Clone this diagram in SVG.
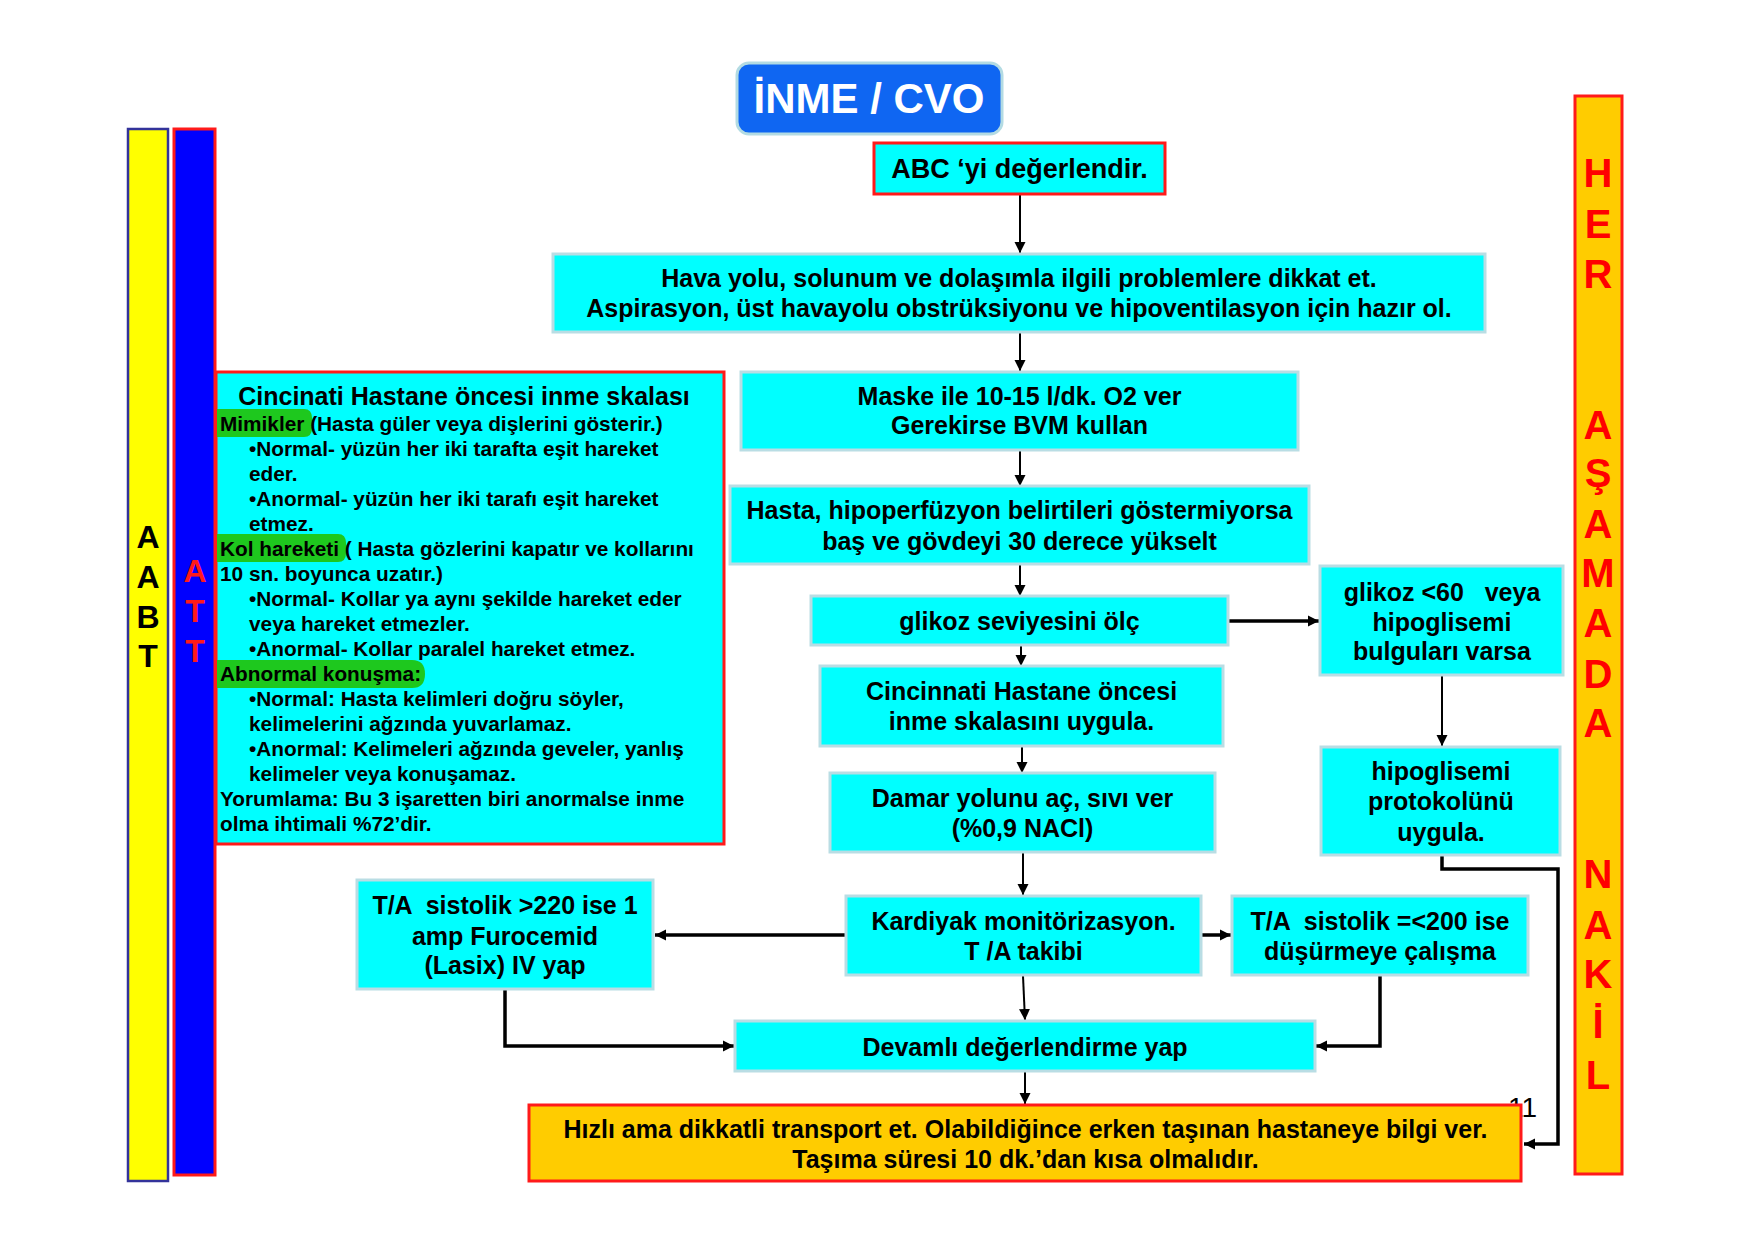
<svg xmlns="http://www.w3.org/2000/svg" width="1755" height="1240" viewBox="0 0 1755 1240">
<defs>
<style>
.box{fill:#00ffff;stroke:#b9dde4;stroke-width:3}
.rbox{fill:#00ffff;stroke:#ff1a1a;stroke-width:3}
.t{font-family:"Liberation Sans",Arial,sans-serif;font-weight:bold;font-size:25px;fill:#000;text-anchor:middle}
.lt{font-family:"Liberation Sans",Arial,sans-serif;font-weight:bold;font-size:20.8px;fill:#000}
.hl{fill:#1ec81e}
.c{fill:none;stroke:#000;stroke-width:2}
.ct{fill:none;stroke:#000;stroke-width:3.5}
.vb{font-family:"Liberation Sans",Arial,sans-serif;font-weight:bold;text-anchor:middle}
</style>
<marker id="ah" viewBox="0 0 10 10" refX="10" refY="5" markerWidth="11" markerHeight="12" markerUnits="userSpaceOnUse" orient="auto">
<path d="M0,0 L10,5 L0,10 z" fill="#000"/>
</marker>
</defs>
<rect width="1755" height="1240" fill="#fff"/>

<g id="bar-aabt">
<rect x="128" y="129" width="40" height="1052" fill="#ffff00" stroke="#33339a" stroke-width="2.5"/>
<text class="vb" x="148" y="548" font-size="32" fill="#000">A</text>
<text class="vb" x="148" y="588" font-size="32" fill="#000">A</text>
<text class="vb" x="148" y="628" font-size="32" fill="#000">B</text>
<text class="vb" x="148" y="667" font-size="32" fill="#000">T</text>
</g>
<g id="bar-att">
<rect x="174" y="129" width="41" height="1046" fill="#0000ff" stroke="#ff1a1a" stroke-width="3"/>
<text class="vb" x="195" y="582" font-size="32" fill="#ff1a1a">A</text>
<text class="vb" x="195" y="622" font-size="32" fill="#ff1a1a">T</text>
<text class="vb" x="195" y="662" font-size="32" fill="#ff1a1a">T</text>
</g>
<g id="bar-her">
<rect x="1575" y="96" width="47" height="1078" fill="#ffcc00" stroke="#ff1a1a" stroke-width="3"/>
<g class="vb" font-size="40" fill="#ff0000">
<text x="1598" y="187">H</text>
<text x="1598" y="238">E</text>
<text x="1598" y="288">R</text>
<text x="1598" y="439">A</text>
<text x="1598" y="487">Ş</text>
<text x="1598" y="538">A</text>
<text x="1598" y="587">M</text>
<text x="1598" y="637">A</text>
<text x="1598" y="688">D</text>
<text x="1598" y="737">A</text>
<text x="1598" y="888">N</text>
<text x="1598" y="939">A</text>
<text x="1598" y="988">K</text>
<text x="1598" y="1038">İ</text>
<text x="1598" y="1089">L</text>
</g>
</g>

<g id="title">
<rect x="737" y="63" width="265" height="71" rx="12" fill="#0f66f2" stroke="#b3dbe3" stroke-width="3"/>
<text class="vb" x="869" y="113" font-size="42" fill="#fff">İNME / CVO</text>
</g>

<g id="connectors">
<path class="c" d="M1020,195 L1020,253" marker-end="url(#ah)"/>
<path class="c" d="M1020,333 L1020,371" marker-end="url(#ah)"/>
<path class="c" d="M1020,451 L1020,486" marker-end="url(#ah)"/>
<path class="c" d="M1020,565 L1020,596" marker-end="url(#ah)"/>
<path class="c" d="M1021,646 L1021,666" marker-end="url(#ah)"/>
<path class="c" d="M1022,747 L1022,773" marker-end="url(#ah)"/>
<path class="c" d="M1023,853 L1023,895" marker-end="url(#ah)"/>
<path class="ct" d="M1228,621 L1319,621" marker-end="url(#ah)"/>
<path class="c" d="M1442,676 L1442,746" marker-end="url(#ah)"/>
<path class="ct" d="M845,935 L655,935" marker-end="url(#ah)"/>
<path class="ct" d="M1202,935 L1231,935" marker-end="url(#ah)"/>
<path class="c" d="M1023,976 L1025,1020" marker-end="url(#ah)"/>
<path class="ct" d="M505,990 L505,1046 L734,1046" marker-end="url(#ah)"/>
<path class="ct" d="M1380,976 L1380,1046 L1316,1046" marker-end="url(#ah)"/>
<path class="c" d="M1025,1072 L1025,1104" marker-end="url(#ah)"/>
<path class="ct" d="M1442,856 L1442,869 L1558,869 L1558,1144 L1524,1144" marker-end="url(#ah)"/>
</g>

<g id="n-abc">
<rect class="rbox" x="874" y="143" width="291" height="51"/>
<text class="t" x="1019.5" y="178" style="font-size:27px">ABC ‘yi değerlendir.</text>
</g>
<g id="n-hava">
<rect class="box" x="553" y="254" width="932" height="78"/>
<text class="t" x="1019" y="287">Hava yolu, solunum ve dolaşımla ilgili problemlere dikkat et.</text>
<text class="t" x="1019" y="317">Aspirasyon, üst havayolu obstrüksiyonu ve hipoventilasyon için hazır ol.</text>
</g>
<g id="n-maske">
<rect class="box" x="741" y="372" width="557" height="78"/>
<text class="t" x="1019.5" y="405">Maske ile 10-15 l/dk. O2 ver</text>
<text class="t" x="1019.5" y="434">Gerekirse BVM kullan</text>
</g>
<g id="n-hasta">
<rect class="box" x="730" y="486" width="579" height="78"/>
<text class="t" x="1019.5" y="519">Hasta, hipoperfüzyon belirtileri göstermiyorsa</text>
<text class="t" x="1019.5" y="550">baş ve gövdeyi 30 derece yükselt</text>
</g>
<g id="n-glikoz">
<rect class="box" x="811" y="596" width="417" height="49"/>
<text class="t" x="1019.5" y="630">glikoz seviyesini ölç</text>
</g>
<g id="n-cinc">
<rect class="box" x="820" y="666" width="403" height="80"/>
<text class="t" x="1021.5" y="700">Cincinnati Hastane öncesi</text>
<text class="t" x="1021.5" y="730">inme skalasını uygula.</text>
</g>
<g id="n-damar">
<rect class="box" x="830" y="773" width="385" height="79"/>
<text class="t" x="1022.5" y="807">Damar yolunu aç, sıvı ver</text>
<text class="t" x="1022.5" y="837">(%0,9 NACl)</text>
</g>
<g id="n-glikoz60">
<rect class="box" x="1320" y="566" width="243" height="109"/>
<text class="t" x="1442" y="601" xml:space="preserve">glikoz &lt;60   veya</text>
<text class="t" x="1442" y="631">hipoglisemi</text>
<text class="t" x="1442" y="660">bulguları varsa</text>
</g>
<g id="n-hipo">
<rect class="box" x="1321" y="747" width="239" height="108"/>
<text class="t" x="1441" y="780">hipoglisemi</text>
<text class="t" x="1441" y="810">protokolünü</text>
<text class="t" x="1441" y="841">uygula.</text>
</g>
<g id="n-ta220">
<rect class="box" x="357" y="880" width="296" height="109"/>
<text class="t" x="505" y="914" xml:space="preserve">T/A  sistolik &gt;220 ise 1</text>
<text class="t" x="505" y="945">amp Furocemid</text>
<text class="t" x="505" y="974">(Lasix) IV yap</text>
</g>
<g id="n-kardiyak">
<rect class="box" x="846" y="896" width="355" height="79"/>
<text class="t" x="1023.5" y="930">Kardiyak monitörizasyon.</text>
<text class="t" x="1023.5" y="960">T /A takibi</text>
</g>
<g id="n-ta200">
<rect class="box" x="1232" y="896" width="296" height="79"/>
<text class="t" x="1380" y="930" xml:space="preserve">T/A  sistolik =&lt;200 ise</text>
<text class="t" x="1380" y="960">düşürmeye çalışma</text>
</g>
<g id="n-devamli">
<rect class="box" x="735" y="1021" width="580" height="50"/>
<text class="t" x="1025" y="1056">Devamlı değerlendirme yap</text>
</g>
<text x="1508" y="1117" font-family="Liberation Sans, Arial, sans-serif" font-size="28" fill="#000">11</text>
<g id="n-hizli">
<rect x="529" y="1105" width="992" height="76" fill="#ffcc00" stroke="#ff1a1a" stroke-width="3"/>
<text class="t" x="1025.5" y="1138">Hızlı ama dikkatli transport et. Olabildiğince erken taşınan hastaneye bilgi ver.</text>
<text class="t" x="1025.5" y="1168">Taşıma süresi 10 dk.’dan kısa olmalıdır.</text>
</g>

<g id="n-scale">
<rect class="rbox" x="216" y="372" width="508" height="472"/>
<path class="hl" d="M217,409 H304 Q312,409 312,418 V428 Q312,437 304,437 H217 Z"/>
<path class="hl" d="M217,534 H338 Q346,534 346,543 V553 Q346,562 338,562 H217 Z"/>
<path class="hl" d="M217,660 H412 Q425,660 425,674 Q425,688 412,688 H217 Z"/>
<text class="t" x="464" y="405">Cincinati Hastane öncesi inme skalası</text>
<text class="lt" x="220" y="431">Mimikler (Hasta güler veya dişlerini gösterir.)</text>
<text class="lt" x="249" y="456">•Normal- yüzün her iki tarafta eşit hareket</text>
<text class="lt" x="249" y="481">eder.</text>
<text class="lt" x="249" y="506">•Anormal- yüzün her iki tarafı eşit hareket</text>
<text class="lt" x="249" y="531">etmez.</text>
<text class="lt" x="220" y="556">Kol hareketi ( Hasta gözlerini kapatır ve kollarını</text>
<text class="lt" x="220" y="581">10 sn. boyunca uzatır.)</text>
<text class="lt" x="249" y="606">•Normal- Kollar ya aynı şekilde hareket eder</text>
<text class="lt" x="249" y="631">veya hareket etmezler.</text>
<text class="lt" x="249" y="656">•Anormal- Kollar paralel hareket etmez.</text>
<text class="lt" x="220" y="681">Abnormal konuşma:</text>
<text class="lt" x="249" y="706">•Normal: Hasta kelimleri doğru söyler,</text>
<text class="lt" x="249" y="731">kelimelerini ağzında yuvarlamaz.</text>
<text class="lt" x="249" y="756">•Anormal: Kelimeleri ağzında geveler, yanlış</text>
<text class="lt" x="249" y="781">kelimeler veya konuşamaz.</text>
<text class="lt" x="220" y="806">Yorumlama: Bu 3 işaretten biri anormalse inme</text>
<text class="lt" x="220" y="831">olma ihtimali %72’dir.</text>
</g>
</svg>
